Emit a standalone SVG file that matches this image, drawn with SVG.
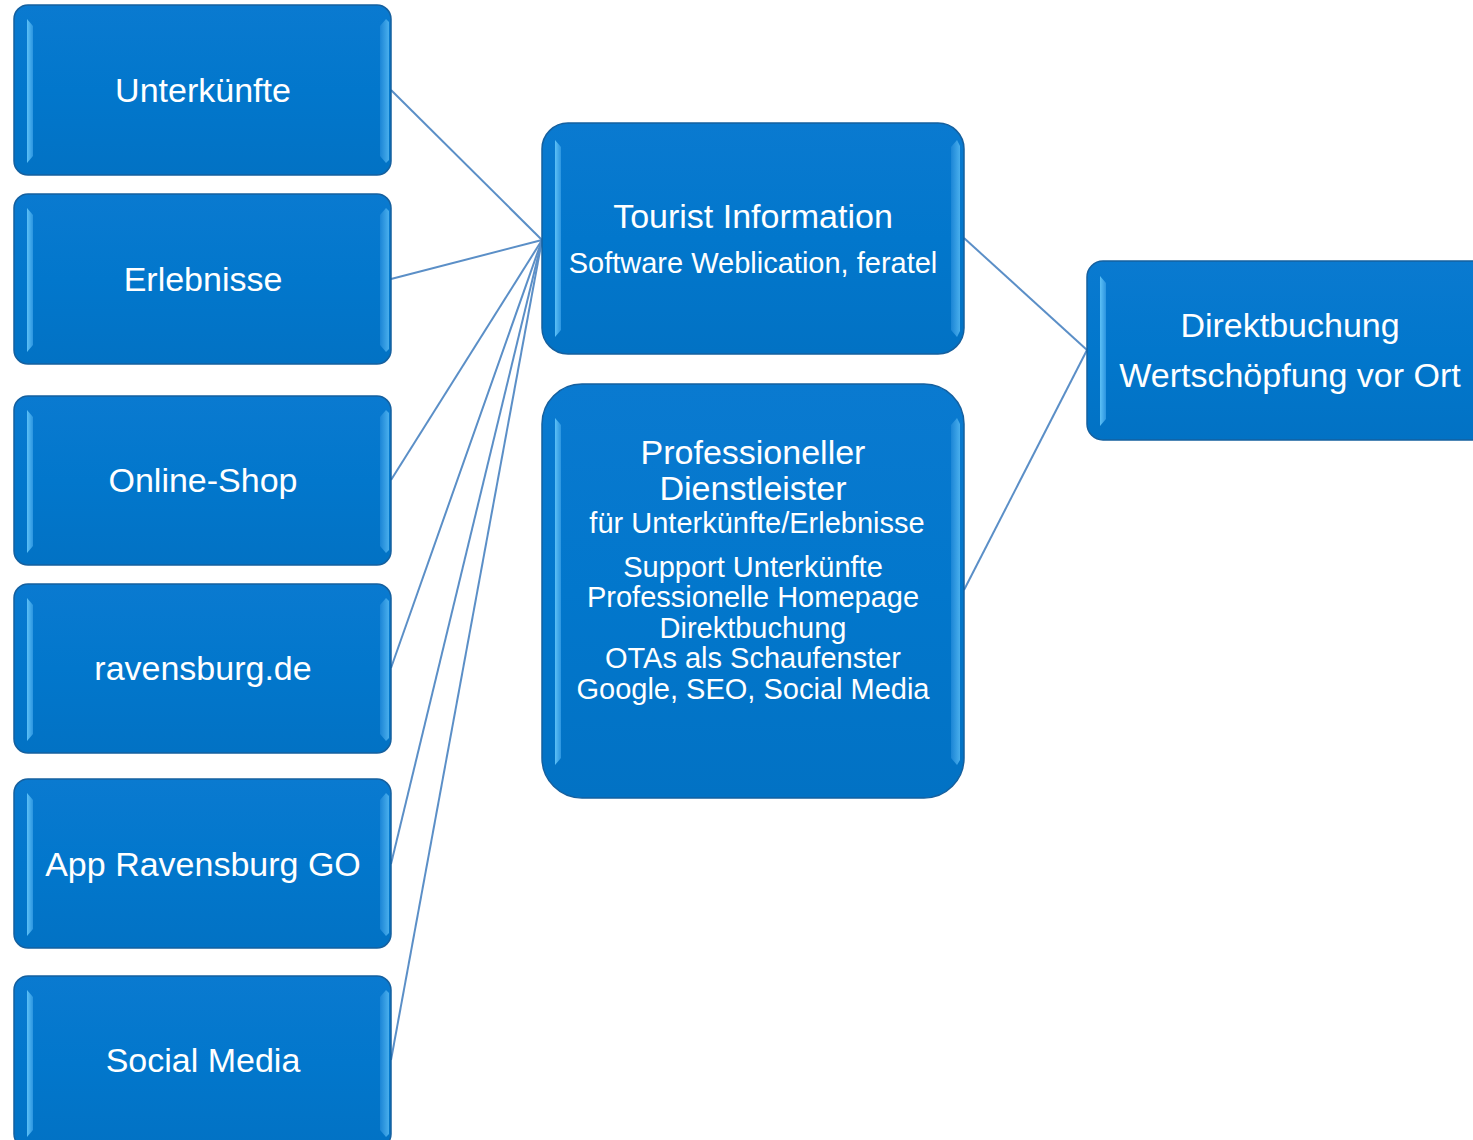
<svg xmlns="http://www.w3.org/2000/svg" width="1473" height="1140" viewBox="0 0 1473 1140">
<defs>
<linearGradient id="face" x1="0" y1="0" x2="0" y2="1">
<stop offset="0" stop-color="#0a7ad0"/>
<stop offset="0.5" stop-color="#0277cc"/>
<stop offset="1" stop-color="#0272c4"/>
</linearGradient>
<linearGradient id="hl" x1="0" y1="0" x2="1" y2="0">
<stop offset="0" stop-color="#5cc0f6"/>
<stop offset="1" stop-color="#2c95e0"/>
</linearGradient>
<linearGradient id="hr" x1="0" y1="0" x2="1" y2="0">
<stop offset="0" stop-color="#1f88d8"/>
<stop offset="1" stop-color="#55b8f2"/>
</linearGradient>
</defs>
<style>
.box{fill:url(#face);stroke:#15609f;stroke-width:1.5}
.sl{fill:url(#hl)}
.sr{fill:url(#hr);opacity:0.85}
.t{font-family:"Liberation Sans",Arial,sans-serif;fill:#ffffff;text-anchor:middle}
.l{font-size:34px}
.s{font-size:29px}
.c{stroke:#5b8fc7;stroke-width:2;fill:none}
</style>
<g id="connectors">
<line class="c" x1="391" y1="90" x2="542" y2="240"/>
<line class="c" x1="391" y1="279" x2="542" y2="240"/>
<line class="c" x1="391" y1="480" x2="542" y2="240"/>
<line class="c" x1="391" y1="668" x2="542" y2="240"/>
<line class="c" x1="391" y1="864" x2="542" y2="240"/>
<line class="c" x1="391" y1="1060" x2="542" y2="240"/>
<line class="c" x1="964" y1="238" x2="1087" y2="350"/>
<line class="c" x1="964" y1="590" x2="1087" y2="350"/>
</g>
<g id="n1">
<rect class="box" x="14" y="5" width="377" height="170" rx="14"/>
<polygon class="sl" points="27,19 33,26 33,156 27,163"/>
<polygon class="sr" points="380,26 386,19 389,22 389,160 386,163 380,156"/>
<text class="t l" x="203" y="102">Unterkünfte</text>
</g>
<g id="n2">
<rect class="box" x="14" y="194" width="377" height="170" rx="14"/>
<polygon class="sl" points="27,208 33,215 33,345 27,352"/>
<polygon class="sr" points="380,215 386,208 389,211 389,349 386,352 380,345"/>
<text class="t l" x="203" y="291">Erlebnisse</text>
</g>
<g id="n3">
<rect class="box" x="14" y="396" width="377" height="169" rx="14"/>
<polygon class="sl" points="27,410 33,417 33,546 27,553"/>
<polygon class="sr" points="380,417 386,410 389,413 389,550 386,553 380,546"/>
<text class="t l" x="203" y="492">Online-Shop</text>
</g>
<g id="n4">
<rect class="box" x="14" y="584" width="377" height="169" rx="14"/>
<polygon class="sl" points="27,598 33,605 33,734 27,741"/>
<polygon class="sr" points="380,605 386,598 389,601 389,738 386,741 380,734"/>
<text class="t l" x="203" y="680">ravensburg.de</text>
</g>
<g id="n5">
<rect class="box" x="14" y="779" width="377" height="169" rx="14"/>
<polygon class="sl" points="27,793 33,800 33,929 27,936"/>
<polygon class="sr" points="380,800 386,793 389,796 389,933 386,936 380,929"/>
<text class="t l" x="203" y="876">App Ravensburg GO</text>
</g>
<g id="n6">
<rect class="box" x="14" y="976" width="377" height="172" rx="14"/>
<polygon class="sl" points="27,990 33,997 33,1130 27,1137"/>
<polygon class="sr" points="380,997 386,990 389,993 389,1134 386,1137 380,1130"/>
<text class="t l" x="203" y="1072">Social Media</text>
</g>
<g id="n7">
<rect class="box" x="542" y="123" width="422" height="231" rx="26"/>
<polygon class="sl" points="555,140 561,147 561,330 555,337"/>
<polygon class="sr" points="951,147 957,140 960,146 960,331 957,337 951,330"/>
<text class="t l" x="753" y="228">Tourist Information</text>
<text class="t s" x="753" y="273">Software Weblication, feratel</text>
</g>
<g id="n8">
<rect class="box" x="542" y="384" width="422" height="414" rx="40"/>
<polygon class="sl" points="555,418 561,425 561,758 555,765"/>
<polygon class="sr" points="951,425 957,418 960,424 960,760 957,765 951,758"/>
<text class="t l" x="753" y="464">Professioneller</text>
<text class="t l" x="753" y="500">Dienstleister</text>
<text class="t s" x="757" y="533">für Unterkünfte/Erlebnisse</text>
<text class="t s" x="753" y="577">Support Unterkünfte</text>
<text class="t s" x="753" y="607">Professionelle Homepage</text>
<text class="t s" x="753" y="638">Direktbuchung</text>
<text class="t s" x="753" y="668">OTAs als Schaufenster</text>
<text class="t s" x="753" y="699">Google, SEO, Social Media</text>
</g>
<g id="n9">
<rect class="box" x="1087" y="261" width="400" height="179" rx="16"/>
<polygon class="sl" points="1100,276 1106,283 1106,419 1100,426"/>
<text class="t l" x="1290" y="337">Direktbuchung</text>
<text class="t l" x="1290" y="387">Wertschöpfung vor Ort</text>
</g>
</svg>
